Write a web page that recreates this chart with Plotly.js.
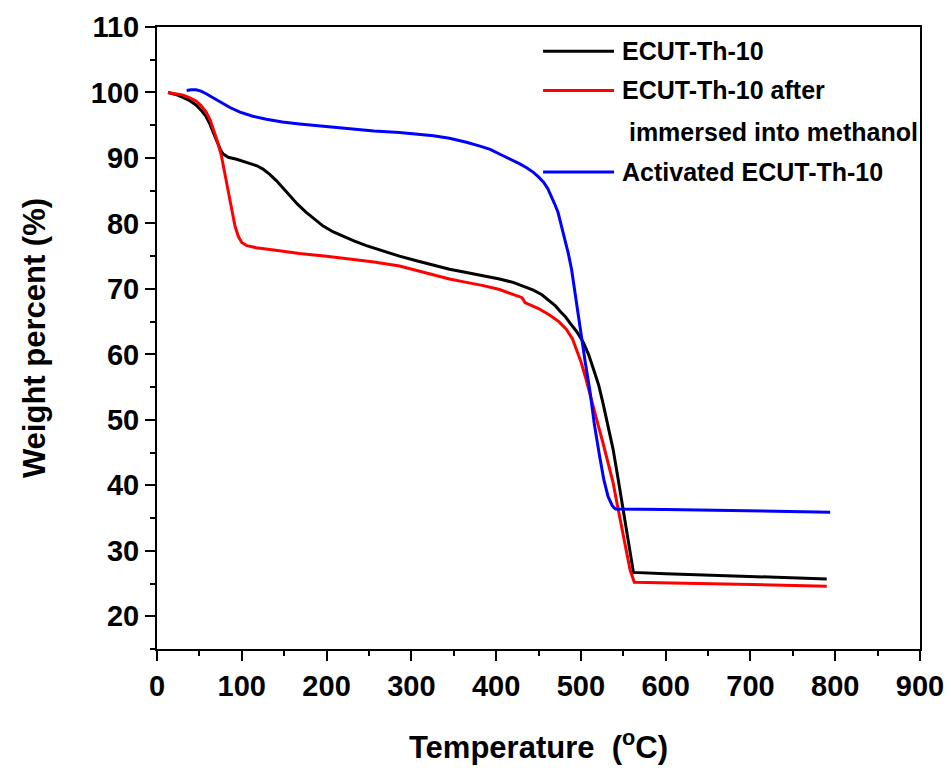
<!DOCTYPE html>
<html>
<head>
<meta charset="utf-8">
<script src="https://cdn.plot.ly/plotly-3.0.1.min.js"></script>
<style>html,body{margin:0;padding:0;background:#fff;}#chart{width:951px;height:771px;}</style>
</head>
<body>
<div id="chart"></div>
<script>
// Series names
const seriesNames = ["ECUT-Th-10", "ECUT-Th-10 after immersed into methanol", "Activated ECUT-Th-10"];

// ECUT-Th-10 (black)
const tempBlack = [13, 22, 30, 38, 46, 52, 58, 62, 66, 69, 72, 75, 78, 84, 94, 109, 118, 125, 133, 141, 149, 157, 166, 176, 186, 196, 208, 220, 233, 247, 266, 286, 306, 326, 345, 365, 385, 404, 420, 432, 444, 454, 463, 470, 476, 482, 487, 495, 503, 509, 515, 521, 526, 532, 538, 543, 548, 553, 558, 562, 600, 680, 790];
const wBlack    = [100.0, 99.7, 99.3, 98.8, 98.1, 97.3, 96.3, 95.3, 94.0, 93.0, 92.0, 91.2, 90.6, 90.1, 89.8, 89.2, 88.8, 88.3, 87.5, 86.5, 85.4, 84.2, 82.9, 81.7, 80.6, 79.6, 78.7, 78.0, 77.3, 76.6, 75.8, 75.0, 74.3, 73.6, 73.0, 72.5, 72.0, 71.5, 71.0, 70.4, 69.8, 69.1, 68.2, 67.4, 66.5, 65.7, 64.8, 63.5, 61.8, 60.0, 57.7, 55.3, 52.6, 49.1, 45.5, 41.7, 37.8, 34.0, 30.2, 26.7, 26.5, 26.2, 25.7];

// ECUT-Th-10 after immersed into methanol (red)
const tempRed = [13, 22, 31, 38, 46, 52, 58, 63, 68, 72, 76, 80, 84, 88, 92, 96, 100, 106, 117, 140, 168, 200, 227, 256, 286, 306, 326, 345, 365, 385, 404, 418, 430, 432, 434, 450, 463, 474, 483, 490, 495, 500, 505, 510, 515, 520, 526, 532, 538, 543, 548, 553, 558, 563, 600, 680, 790];
const wRed    = [100.0, 99.8, 99.6, 99.2, 98.7, 98.0, 97.0, 95.7, 93.9, 92.2, 90.3, 87.5, 84.7, 82.0, 79.6, 78.0, 77.1, 76.6, 76.3, 75.9, 75.4, 75.0, 74.6, 74.1, 73.5, 72.8, 72.1, 71.5, 71.0, 70.5, 69.9, 69.3, 68.7, 68.4, 67.9, 67.0, 66.0, 65.0, 63.8, 62.4, 60.8, 58.9, 56.7, 54.4, 52.1, 49.4, 46.5, 43.4, 40.4, 37.0, 33.7, 30.4, 27.1, 25.2, 25.1, 24.9, 24.6];

// Activated ECUT-Th-10 (blue)
const tempBlue = [35, 40, 46, 52, 58, 66, 74, 86, 98, 112, 129, 148, 168, 198, 227, 256, 286, 306, 326, 345, 365, 381, 393, 404, 416, 428, 436, 444, 450, 456, 461, 465, 469, 473, 476, 479, 482, 485, 489, 494, 499, 505, 511, 516, 522, 527, 532, 535, 537, 539, 541, 600, 680, 794];
const wBlue    = [100.3, 100.4, 100.4, 100.2, 99.8, 99.2, 98.5, 97.7, 97.0, 96.4, 95.9, 95.5, 95.2, 94.8, 94.4, 94.1, 93.9, 93.7, 93.4, 93.0, 92.4, 91.8, 91.3, 90.6, 89.9, 89.1, 88.5, 87.8, 87.1, 86.3, 85.3, 84.2, 83.0, 81.7, 80.2, 78.6, 77.1, 75.5, 73.0, 68.5, 63.8, 58.9, 54.1, 49.2, 44.5, 40.9, 38.3, 37.3, 36.9, 36.6, 36.4, 36.3, 36.1, 35.9];

// Legend text lines
const legText = ["ECUT-Th-10", "ECUT-Th-10 after", "\u00a0immersed into methanol", "Activated ECUT-Th-10"];

const colors = ["#000000", "#ff0000", "#0000ff"];
const xs = [tempBlack, tempRed, tempBlue];
const ys = [wBlack, wRed, wBlue];

const traces = xs.map((x, i) => ({
  x: x, y: ys[i], type: "scatter", mode: "lines",
  name: seriesNames[i],
  line: {color: colors[i], width: 3, shape: "linear"},
  hoverinfo: "skip"
}));

const fontFam = "Liberation Sans, Arial, sans-serif";

// manual legend (paper coordinates)
const legY = [0.961, 0.898, 0.767];
const shapes = legY.map((yy, i) => ({
  type: "line", xref: "paper", yref: "paper",
  x0: 0.506, x1: 0.599, y0: yy, y1: yy,
  line: {color: colors[i], width: 3}
}));
const legTextY = [0.961, 0.898, 0.831, 0.767];
const annotations = legText.map((t, i) => ({
  text: t, xref: "paper", yref: "paper", x: 0.607, y: legTextY[i],
  xanchor: "left", yanchor: "middle", showarrow: false,
  font: {family: fontFam, size: 25, color: "#000", weight: "bold"}
}));

const axisCommon = {
  showline: true, linecolor: "#000", linewidth: 2, mirror: true,
  ticks: "outside", ticklen: 10, tickwidth: 2, tickcolor: "#000",
  showgrid: false, zeroline: false,
  tickfont: {family: fontFam, size: 29, color: "#000", weight: "bold"}
};

const layout = {
  width: 951, height: 771,
  margin: {l: 157, r: 31, t: 27, b: 122},
  paper_bgcolor: "#fff", plot_bgcolor: "#fff",
  showlegend: false,
  xaxis: Object.assign({}, axisCommon, {
    range: [0, 900], dtick: 100, tick0: 0,
    minor: {ticks: "outside", ticklen: 5, tickwidth: 2, tickcolor: "#000", dtick: 50},
    title: {text: "Temperature\u00a0\u00a0(<sup>o</sup>C)", standoff: 36,
            font: {family: fontFam, size: 31, color: "#000", weight: "bold"}}
  }),
  yaxis: Object.assign({}, axisCommon, {
    range: [15, 110], dtick: 10, tick0: 0,
    minor: {ticks: "outside", ticklen: 5, tickwidth: 2, tickcolor: "#000", dtick: 5},
    title: {text: "Weight percent (%)", standoff: 36,
            font: {family: fontFam, size: 31, color: "#000", weight: "bold"}}
  }),
  shapes: shapes,
  annotations: annotations
};

Plotly.newPlot("chart", traces, layout, {displayModeBar: false, staticPlot: true});
</script>
</body>
</html>
